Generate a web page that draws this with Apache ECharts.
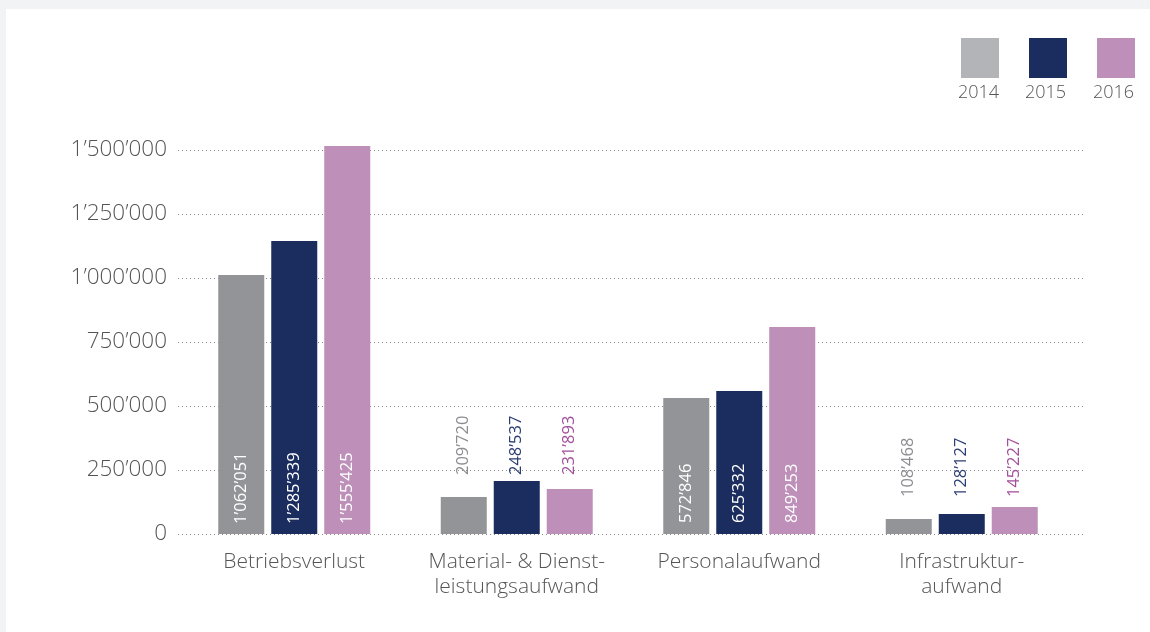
<!DOCTYPE html>
<html>
<head>
<meta charset="utf-8">
<script src="https://cdn.jsdelivr.net/npm/echarts@6/dist/echarts.min.js"></script>
<style>
  html, body { margin: 0; padding: 0; background: #f2f3f5; width: 1150px; height: 632px; overflow: hidden; }
  #c { position: absolute; left: 6px; top: 9px; width: 1144px; height: 623px; background: #ffffff; }
</style>
</head>
<body>
<div id="c"></div>
<script>
// ---- data ----
const categories = ['Betriebsverlust', 'Material- & Dienst-\nleistungsaufwand', 'Personalaufwand', 'Infrastruktur-\naufwand'];
const years = ['2014', '2015', '2016'];
// bar heights as drawn in the picture
const values2014 = [1011700, 144500, 531200, 58600];
const values2015 = [1144500, 207000, 558600, 78100];
const values2016 = [1515600, 175800, 808600, 105500];
// value labels as printed
const labels2014 = ['1\u2019062\u2019051', '209\u2019720', '572\u2019846', '108\u2019468'];
const labels2015 = ['1\u2019285\u2019339', '248\u2019537', '625\u2019332', '128\u2019127'];
const labels2016 = ['1\u2019555\u2019425', '231\u2019893', '849\u2019253', '145\u2019227'];
const yTicks = [0, 250000, 500000, 750000, 1000000, 1250000, 1500000];

// ---- styles ----
const barColors = ['#939498', '#1b2c5e', '#bd8fb9'];
const legendColors = ['#b3b4b8', '#1b2c5e', '#bd8fb9'];
const outsideLabelColors = ['#8c8d91', '#2b3e74', '#a2509b'];
const labelInside = [true, false, true, false];
const labelLift = [10, 59, 11, 37];

const valuesByYear = [values2014, values2015, values2016];
const labelsByYear = [labels2014, labels2015, labels2016];

function fmt(v) {
  return String(v).replace(/\B(?=(\d{3})+(?!\d))/g, '\u2019');
}

const chart = echarts.init(document.getElementById('c'), null, { renderer: 'canvas' });
const font = '"Open Sans", "DejaVu Sans", sans-serif';
const textColor = '#555555';
const weight = 300;

const series = years.map((y, s) => ({
  name: y,
  type: 'bar',
  xAxisIndex: 1,
  yAxisIndex: 1,
  barWidth: 46,
  barGap: '15.2%',
  clip: false,
  itemStyle: { color: barColors[s] },
  data: valuesByYear[s].map((v, i) => ({
    value: v,
    label: {
      show: true,
      position: 'insideBottom',
      distance: labelLift[i],
      rotate: 90,
      align: 'left',
      verticalAlign: 'middle',
      fontFamily: font,
      fontWeight: 'normal',
      fontSize: 16.5,
      color: labelInside[i] ? '#ffffff' : outsideLabelColors[s],
      formatter: labelsByYear[s][i]
    }
  }))
}));

const legendCenters = [972, 1039, 1107];

chart.setOption({
  animation: false,
  textStyle: { fontFamily: font },
  legend: {
    left: 950,
    top: 24,
    itemWidth: 38,
    itemHeight: 40,
    itemGap: 30,
    icon: 'rect',
    formatter: () => '',
    selectedMode: false,
    data: years.map((y, s) => ({ name: y, itemStyle: { color: legendColors[s] } }))
  },
  graphic: years.map((y, s) => ({
    type: 'text',
    left: legendCenters[s] - 20,
    top: 75,
    style: { text: y, fontFamily: font, fontWeight: weight, fontSize: 18, fill: textColor, textAlign: 'left' }
  })),
  grid: [
    { left: 172, right: 66, top: 141, bottom: 98 },
    { left: 177, right: 77, top: 141, bottom: 98 }
  ],
  xAxis: [
    { gridIndex: 0, type: 'value', show: false, min: 0, max: 1 },
    {
      gridIndex: 1,
      type: 'category',
      data: categories,
      axisLine: { show: false },
      axisTick: { show: false },
      axisLabel: { interval: 0, color: textColor, fontSize: 21, fontWeight: weight, fontFamily: font, margin: 16, lineHeight: 25 }
    }
  ],
  yAxis: [
    {
      gridIndex: 0,
      type: 'value',
      min: 0,
      max: yTicks[yTicks.length - 1],
      interval: yTicks[1] - yTicks[0],
      axisLine: { show: false },
      axisTick: { show: false },
      axisLabel: { color: textColor, fontSize: 22.5, fontWeight: weight, fontFamily: font, margin: 11, formatter: v => fmt(v) },
      splitLine: { show: true, lineStyle: { color: '#8a8a8a', width: 1, type: [1, 3] } }
    },
    {
      gridIndex: 1,
      type: 'value',
      min: 0,
      max: yTicks[yTicks.length - 1],
      interval: yTicks[1] - yTicks[0],
      show: false,
      splitLine: { show: false }
    }
  ],
  series: series
});
</script>
</body>
</html>
